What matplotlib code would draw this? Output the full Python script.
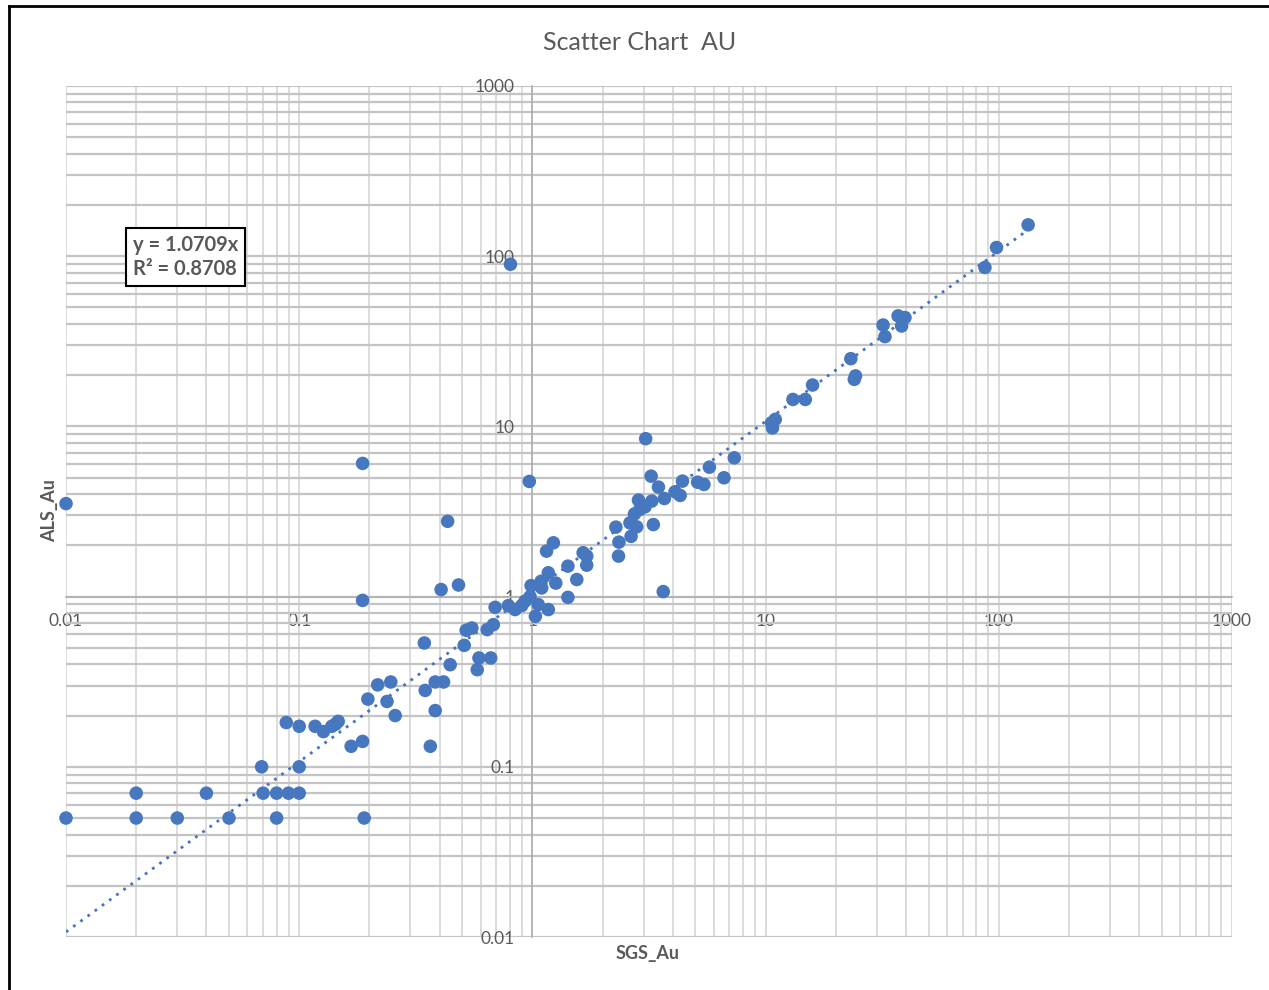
import numpy as np
import matplotlib
matplotlib.use('Agg')
import matplotlib.pyplot as plt
from matplotlib.ticker import FixedLocator, FixedFormatter, LogLocator, NullFormatter

plt.rcParams['font.family'] = ['Lato', 'DejaVu Sans']

# SGS_Au (x) vs ALS_Au (y)
sgs = [0.01, 0.088, 0.10, 0.117, 0.127, 0.069, 0.10, 0.02, 0.04, 0.07,
       0.08, 0.09, 0.10, 0.01, 0.02, 0.03, 0.05, 0.08, 0.19,
       0.433, 0.187, 0.406, 0.482, 0.692, 0.789, 0.843, 0.90, 0.93, 0.977,
       0.987, 1.03, 1.06, 1.09, 1.096, 1.17, 1.17, 1.15, 1.23, 1.26,
       1.42, 1.42, 1.55, 0.52, 0.55, 0.64, 0.68, 0.51, 0.344, 0.59,
       0.663, 0.58, 0.444, 0.383, 0.416, 0.347, 0.383, 0.365, 0.217, 0.247,
       0.197, 0.238, 0.258, 0.167, 0.187, 0.147, 0.138, 0.143,
       3.06, 3.23, 3.47, 3.68, 2.85, 3.25, 3.04, 2.89, 2.74, 2.62,
       2.80, 3.30, 2.65, 2.28, 2.35, 2.34, 4.09, 4.30, 4.40, 5.11,
       5.44, 5.74, 6.63, 7.34, 1.65, 1.71, 1.71, 3.64,
       133.6, 97.8, 87.2, 37.0, 39.6, 38.3, 31.9, 32.5, 23.2, 24.3,
       24.0, 15.9, 13.1, 14.8, 11.0, 10.7, 10.6,
       0.805, 0.187, 0.97]
als = [3.52, 0.182, 0.173, 0.173, 0.161, 0.10, 0.10, 0.07, 0.07, 0.07,
       0.07, 0.07, 0.07, 0.05, 0.05, 0.05, 0.05, 0.05, 0.05,
       2.77, 0.95, 1.10, 1.17, 0.865, 0.885, 0.839, 0.885, 0.94, 1.0,
       1.16, 0.766, 0.897, 1.23, 1.125, 0.839, 1.38, 1.85, 2.07, 1.20,
       1.51, 0.99, 1.26, 0.634, 0.654, 0.64, 0.684, 0.517, 0.534, 0.436,
       0.436, 0.372, 0.398, 0.315, 0.315, 0.281, 0.214, 0.132, 0.303, 0.315,
       0.25, 0.242, 0.20, 0.132, 0.141, 0.185, 0.173, 0.178,
       8.47, 5.10, 4.40, 3.77, 3.69, 3.64, 3.37, 3.25, 3.06, 2.71,
       2.57, 2.65, 2.26, 2.56, 2.09, 1.73, 4.13, 3.93, 4.77, 4.70,
       4.56, 5.76, 4.99, 6.54, 1.81, 1.73, 1.53, 1.07,
       152.8, 112.5, 85.9, 44.6, 43.6, 38.9, 39.4, 33.7, 25.0, 19.8,
       18.9, 17.5, 14.4, 14.4, 11.0, 9.8, 10.5,
       89.7, 6.06, 4.75]

slope = 1.0709
r2 = 0.8708
ticks = [0.01, 0.1, 1, 10, 100, 1000]
tick_labels = ['0.01', '0.1', '1', '10', '100', '1000']

blue = '#4677bf'
txt = '#595959'

fig = plt.figure(figsize=(12.69, 9.9), dpi=100)
ax = fig.add_axes([66 / 1269, 53 / 990, 1166 / 1269, 851 / 990])
ax.set_xscale('log')
ax.set_yscale('log')
ax.set_xlim(0.01, 1000)
ax.set_ylim(0.01, 1000)

for axis in (ax.xaxis, ax.yaxis):
    axis.set_major_locator(FixedLocator(ticks))
    axis.set_major_formatter(FixedFormatter(tick_labels))
    axis.set_minor_locator(LogLocator(base=10, subs=np.arange(2, 10)))
    axis.set_minor_formatter(NullFormatter())

ax.grid(True, which='both', axis='x', color='#d9d9d9', lw=1.3)
ax.grid(True, which='both', axis='y', color='#c4c4c4', lw=1.6)
ax.set_axisbelow(True)

ax.spines['left'].set_position(('data', 1))
ax.spines['bottom'].set_position(('data', 1))
ax.spines['top'].set_visible(False)
ax.spines['right'].set_visible(False)
for s in ('left', 'bottom'):
    ax.spines[s].set_color('#b0b0b0')
    ax.spines[s].set_linewidth(1.2)
ax.tick_params(which='both', length=0)
ax.tick_params(axis='x', pad=12, labelsize=12.5, labelcolor=txt)
ax.tick_params(axis='y', pad=13, labelsize=12.5, labelcolor=txt)

# trendline through origin
tx = np.array([0.01, max(sgs)])
ax.plot(tx, slope * tx, color='#4472c4', lw=2, ls=(0, (1, 2.2)), zorder=2)

ax.scatter(sgs, als, s=95, color=blue, edgecolors='none', zorder=3, clip_on=False)

fig.text(0.504, 1 - 43 / 990, 'Scatter Chart  AU', ha='center', va='center',
         fontsize=18, color=txt)
fig.text(50 / 1269, 1 - 511 / 990, 'ALS_Au', rotation=90, ha='center', va='center',
         fontsize=13, fontweight='bold', color=txt)
fig.text(648 / 1269, 1 - 954 / 990, 'SGS_Au', ha='center', va='center',
         fontsize=13, fontweight='bold', color=txt)

fig.text(133 / 1269, 1 - 257 / 990,
         'y = %.4fx\nR\u00b2 = %.4f' % (slope, r2),
         ha='left', va='center', fontsize=14.5, fontweight='bold', color=txt,
         linespacing=1.25,
         bbox=dict(boxstyle='square,pad=0.35', facecolor='white',
                   edgecolor='black', lw=1.5))

# outer chart border (left and top edges visible in the reference)
fig.add_artist(plt.Line2D([9 / 1269, 9 / 1269], [0, 1 - 6 / 990],
                          transform=fig.transFigure, color='black', lw=2))
fig.add_artist(plt.Line2D([9 / 1269, 1], [1 - 6 / 990, 1 - 6 / 990],
                          transform=fig.transFigure, color='black', lw=2))

fig.savefig('out.png', dpi=100)
